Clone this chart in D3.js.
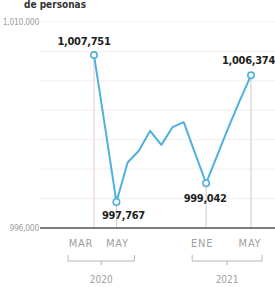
<!DOCTYPE html>
<html>
<head>
<meta charset="utf-8">
<script src="https://cdn.jsdelivr.net/npm/d3@7.9.0/dist/d3.min.js"></script>
<style>
  body { margin: 0; background: #fff; }
  svg { display: block; }
  text { font-family: "Liberation Sans Narrow", "DejaVu Sans Condensed", "Roboto", sans-serif; font-stretch: condensed; }
</style>
</head>
<body>
<svg id="chart" width="275" height="287"></svg>
<script>
// monthly values, MAR 2020 - MAY 2021 (persons)
const months = ['MAR', 'ABR', 'MAY', 'JUN', 'JUL', 'AGO', 'SEP', 'OCT', 'NOV', 'DIC', 'ENE', 'FEB', 'MAR', 'ABR', 'MAY'];
const values = [1007751, 1002800, 997767, 1000450, 1001250, 1002600, 1001650, 1002850, 1003200, 1001100, 999042, 1000950, 1002850, 1004650, 1006374];

// annotated points (index into arrays above)
const marked = [0, 2, 10, 14];
const tickMonths = [0, 2, 10, 14];
const yearGroups = [
  { label: '2020', from: 0, to: 2, padL: 26, padR: 18 },
  { label: '2021', from: 10, to: 14, padL: 14, padR: 11 }
];
const yTicks = [996000, 1010000];

const fmt = d3.format(',');
const svg = d3.select('#chart');

const x = d3.scaleLinear().domain([0, months.length - 1]).range([94, 251]);
const y = d3.scaleLinear().domain([996000, 1010000]).range([228, 22]);

// faint horizontal grid
svg.append('g')
  .selectAll('line')
  .data(d3.range(996000, 1010001, 2000))
  .join('line')
  .attr('x1', 40).attr('x2', 275)
  .attr('y1', d => y(d)).attr('y2', d => y(d))
  .attr('stroke', '#f1eeee').attr('stroke-width', 1);

// y tick labels
svg.append('g')
  .selectAll('text')
  .data(yTicks)
  .join('text')
  .attr('x', 39).attr('y', d => y(d) + 3)
  .attr('text-anchor', 'end')
  .attr('font-size', 8.5)
  .attr('letter-spacing', -0.3)
  .attr('fill', '#a0a0a0')
  .text(d => fmt(d));

// vertical drop lines for annotated points
svg.append('g')
  .selectAll('line')
  .data(marked)
  .join('line')
  .attr('x1', i => x(i)).attr('x2', i => x(i))
  .attr('y1', i => y(values[i])).attr('y2', y(996000))
  .attr('stroke', (i, k) => k === 0 ? '#e9caca' : '#c9c9c9')
  .attr('stroke-width', 1);

// x axis line
svg.append('line')
  .attr('x1', 40).attr('x2', 275)
  .attr('y1', y(996000)).attr('y2', y(996000))
  .attr('stroke', '#555').attr('stroke-width', 1.5);

// series line
const line = d3.line()
  .x((d, i) => x(i))
  .y(d => y(d));

svg.append('path')
  .datum(values)
  .attr('d', line)
  .attr('fill', 'none')
  .attr('stroke', '#4fb0e0')
  .attr('stroke-width', 2)
  .attr('stroke-linejoin', 'round');

// markers
svg.append('g')
  .selectAll('circle')
  .data(marked)
  .join('circle')
  .attr('cx', i => x(i)).attr('cy', i => y(values[i]))
  .attr('r', 3.2)
  .attr('fill', '#fff')
  .attr('stroke', '#4fb0e0')
  .attr('stroke-width', 1.6);

// value labels
const labelOffsets = [
  { dx: -10, dy: -10, anchor: 'middle' },
  { dx: 7, dy: 17, anchor: 'middle' },
  { dx: -1, dy: 19, anchor: 'middle' },
  { dx: 24, dy: -11, anchor: 'end' }
];
svg.append('g')
  .selectAll('text')
  .data(marked)
  .join('text')
  .attr('x', (i, k) => x(i) + labelOffsets[k].dx)
  .attr('y', (i, k) => y(values[i]) + labelOffsets[k].dy)
  .attr('text-anchor', (i, k) => labelOffsets[k].anchor)
  .attr('font-size', 11)
  .attr('font-weight', 'bold')
  .attr('letter-spacing', -0.3)
  .attr('fill', '#1e1e1e')
  .text(i => fmt(values[i]));

// month labels
const monthShift = [-13, 1, -4, -1];
svg.append('g')
  .selectAll('text')
  .data(tickMonths)
  .join('text')
  .attr('x', (i, k) => x(i) + monthShift[k])
  .attr('y', 247)
  .attr('text-anchor', 'middle')
  .attr('font-size', 11)
  .attr('letter-spacing', 0.8)
  .attr('fill', '#a0a0a0')
  .text(i => months[i]);

// year brackets
const bracket = svg.append('g');
yearGroups.forEach(g => {
  const x0 = x(g.from) - g.padL, x1 = x(g.to) + g.padR;
  const mid = (x0 + x1) / 2;
  bracket.append('path')
    .attr('d', `M${x0},255V261H${x1}V255M${mid},261V265`)
    .attr('fill', 'none')
    .attr('stroke', '#b5b5b5')
    .attr('stroke-width', 1);
  bracket.append('text')
    .attr('x', mid).attr('y', 283)
    .attr('text-anchor', 'middle')
    .attr('font-size', 10)
    .attr('fill', '#a0a0a0')
    .text(g.label);
});

// title near the top edge
svg.append('text')
  .attr('x', 24).attr('y', 8)
  .attr('font-size', 10)
  .attr('font-weight', 'bold')
  .attr('fill', '#333')
  .text('de personas');
</script>
</body>
</html>
